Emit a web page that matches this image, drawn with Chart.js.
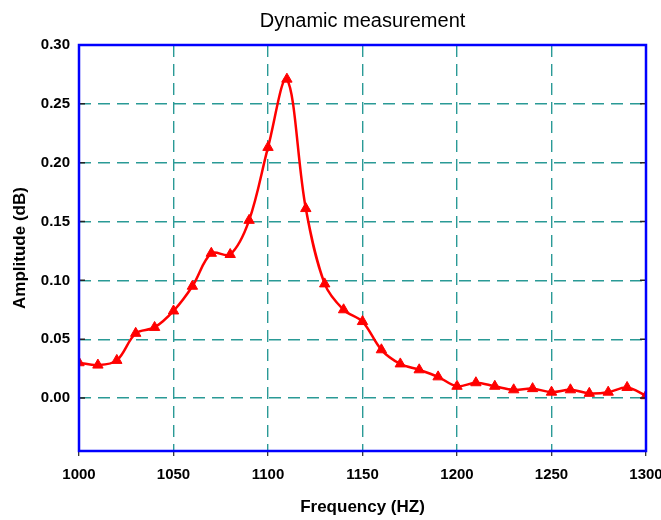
<!DOCTYPE html>
<html>
<head>
<meta charset="utf-8">
<script src="https://cdn.jsdelivr.net/npm/chart.js@4/dist/chart.umd.min.js"></script>
<style>
  html, body { margin: 0; padding: 0; background: #fff; }
  #wrap { width: 661px; height: 520px; }
</style>
</head>
<body>
<div id="wrap"><canvas id="chart" width="661" height="520"></canvas></div>
<script>
//data
const frequency = [1000, 1010, 1020, 1030, 1040, 1050, 1060, 1070, 1080, 1090, 1100,
                   1110, 1120, 1130, 1140, 1150, 1160, 1170, 1180, 1190, 1200,
                   1210, 1220, 1230, 1240, 1250, 1260, 1270, 1280, 1290, 1300];
const amplitude = [0.030, 0.028, 0.032, 0.055, 0.060, 0.074, 0.095, 0.123, 0.122, 0.151, 0.213,
                   0.271, 0.161, 0.097, 0.075, 0.065, 0.041, 0.029, 0.024, 0.018, 0.010,
                   0.013, 0.010, 0.007, 0.008, 0.005, 0.007, 0.004, 0.005, 0.009, 0.002];
const yTicks = [0.00, 0.05, 0.10, 0.15, 0.20, 0.25, 0.30];

//colors
const colors = {
    line: "#ff0000",
    frame: "#0000ff",
    grid: "#2a9a96",
    tick: "#222222",
    text: "#000000"
};

const points = frequency.map((f, i) => ({x: f, y: amplitude[i]}));

// blue frame all round + small inside ticks on the y axis
const framePlugin = {
    id: 'frame',
    afterDraw(chart) {
        const {ctx, chartArea: a} = chart;
        const y = chart.scales.y;
        ctx.save();
        ctx.strokeStyle = colors.tick;
        ctx.lineWidth = 1.5;
        yTicks.forEach((v) => {
            const py = y.getPixelForValue(v);
            ctx.beginPath();
            ctx.moveTo(a.left, py); ctx.lineTo(a.left + 6, py);
            ctx.moveTo(a.right - 6, py); ctx.lineTo(a.right, py);
            ctx.stroke();
        });
        ctx.strokeStyle = colors.frame;
        ctx.lineWidth = 2.5;
        ctx.strokeRect(a.left, a.top, a.right - a.left, a.bottom - a.top);
        ctx.restore();
    }
};

const ctx = document.querySelector('#chart').getContext('2d');
const chartobj = new Chart(ctx, {
    type: 'line',
    data: {
        datasets: [{
            label: 'Amplitude',
            data: points,
            borderColor: colors.line,
            backgroundColor: colors.line,
            borderWidth: 2.5,
            tension: 0.35,
            pointStyle: 'triangle',
            pointRadius: 6,
            pointBorderWidth: 1
        }]
    },
    options: {
        responsive: false,
        animation: false,
        layout: { padding: { left: 0, right: 15, top: 0, bottom: 0 } },
        plugins: {
            legend: { display: false },
            title: { display: false },
            tooltip: { enabled: false }
        },
        scales: {
            x: {
                type: 'linear',
                position: 'bottom',
                min: 1000,
                max: 1300,
                ticks: {
                    stepSize: 50,
                    color: colors.text,
                    padding: 10,
                    callback: (v) => String(v),
                    font: { family: 'Liberation Sans', size: 15, weight: 'bold' }
                },
                grid: {
                    color: colors.grid,
                    lineWidth: 1.4,
                    tickLength: 5,
                    tickColor: colors.tick,
                    tickBorderDash: [],
                    tickWidth: 1.2
                },
                border: { display: false, dash: [12, 7] },
                title: {
                    display: true,
                    text: 'Frequency (HZ)',
                    color: colors.text,
                    padding: { top: 0, bottom: 2 },
                    font: { family: 'Liberation Sans', size: 17, weight: 'bold' }
                },
                afterFit: (scale) => {
                    scale.height = 69;
                    scale.paddingLeft = 0;
                    scale.paddingRight = 0;
                }
            },
            top: {
                type: 'linear',
                position: 'top',
                min: 1000,
                max: 1300,
                ticks: { display: false },
                grid: { display: false },
                border: { display: false },
                title: {
                    display: true,
                    text: 'Dynamic measurement',
                    color: colors.text,
                    padding: { top: 9, bottom: 0 },
                    font: { family: 'Liberation Sans', size: 20, weight: 'normal' }
                },
                afterFit: (scale) => {
                    scale.height = 45;
                    scale.paddingLeft = 0;
                    scale.paddingRight = 0;
                }
            },
            y: {
                min: -0.045,
                max: 0.30,
                afterBuildTicks: (scale) => {
                    scale.ticks = yTicks.map((v) => ({value: v}));
                },
                ticks: {
                    color: colors.text,
                    padding: 9,
                    callback: (v) => Number(v).toFixed(2),
                    font: { family: 'Liberation Sans', size: 15, weight: 'bold' }
                },
                grid: {
                    color: colors.grid,
                    lineWidth: 1.4,
                    drawTicks: false
                },
                border: { display: false, dash: [12, 7] },
                title: {
                    display: true,
                    text: 'Amplitude (dB)',
                    color: colors.text,
                    padding: { top: 10, bottom: 0 },
                    font: { family: 'Liberation Sans', size: 17, weight: 'bold' }
                },
                afterFit: (scale) => {
                    scale.width = 79;
                    scale.paddingTop = 0;
                    scale.paddingBottom = 0;
                }
            }
        }
    },
    plugins: [framePlugin]
});
</script>
</body>
</html>
